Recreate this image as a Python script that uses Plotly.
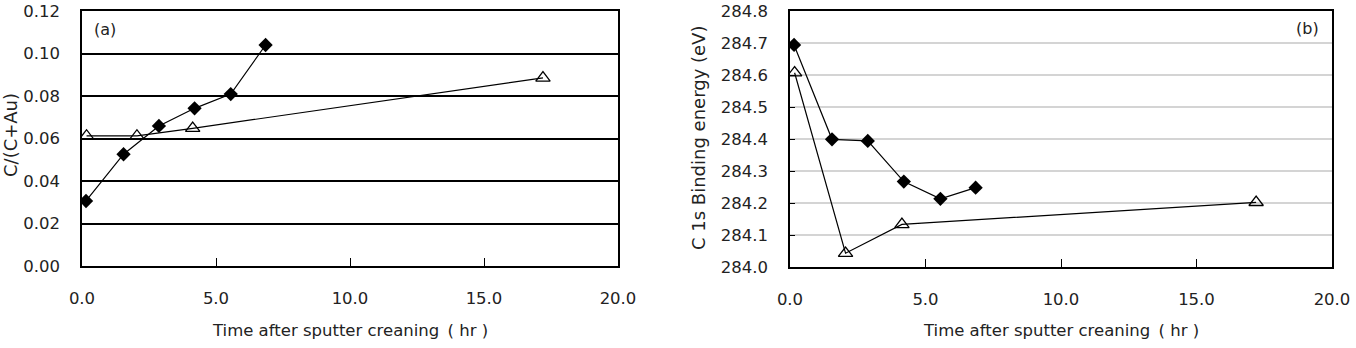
import plotly.graph_objects as go

# ---- data ----
time_dia = [0.15, 1.55, 2.87, 4.2, 5.55, 6.85]
ratio_dia = [0.0306, 0.0526, 0.0659, 0.0742, 0.0809, 0.104]
time_tri = [0.17, 2.05, 4.13, 17.2]
ratio_tri = [0.0612, 0.0612, 0.0648, 0.0885]

be_dia = [284.694, 284.399, 284.394, 284.267, 284.213, 284.248]
be_tri = [284.607, 284.043, 284.133, 284.202]

x_ticks = [0, 5, 10, 15, 20]
x_ticklabels = ["0.0", "5.0", "10.0", "15.0", "20.0"]
ya_ticks = [0, 0.02, 0.04, 0.06, 0.08, 0.10, 0.12]
ya_ticklabels = ["0.00", "0.02", "0.04", "0.06", "0.08", "0.10", "0.12"]
yb_ticks = [284.0, 284.1, 284.2, 284.3, 284.4, 284.5, 284.6, 284.7, 284.8]
yb_ticklabels = ["284.0", "284.1", "284.2", "284.3", "284.4", "284.5", "284.6", "284.7", "284.8"]

x_title = "Time after sputter creaning\u2002( hr )"
ya_title = "C/(C+Au)"
yb_title = "C 1s Binding energy (eV)"

W, H = 1356, 348
FONT = "DejaVu Sans"
TXT = "#222222"

fig = go.Figure()

line = dict(color="black", width=1.2)
dia = dict(symbol="diamond", size=11, color="black", line=dict(color="black", width=0))
tri = dict(symbol="triangle-up-open", size=12.5, color="black", line=dict(color="black", width=1.3))

fig.add_trace(go.Scatter(x=time_dia, y=ratio_dia, mode="lines+markers", line=line, marker=dia,
                         xaxis="x", yaxis="y", showlegend=False))
fig.add_trace(go.Scatter(x=time_tri, y=ratio_tri, mode="lines+markers", line=line, marker=tri,
                         xaxis="x", yaxis="y", showlegend=False))
fig.add_trace(go.Scatter(x=time_dia, y=be_dia, mode="lines+markers", line=line, marker=dia,
                         xaxis="x2", yaxis="y2", showlegend=False))
fig.add_trace(go.Scatter(x=time_tri, y=be_tri, mode="lines+markers", line=line, marker=tri,
                         xaxis="x2", yaxis="y2", showlegend=False))

def px_x(p):
    return p / W

def px_y(p):
    return 1 - p / H

tickfont = dict(family=FONT, size=16.5, color=TXT)

common_x = dict(range=[0, 20], tickvals=x_ticks, ticktext=x_ticklabels, showgrid=False,
                showline=True, linecolor="black", linewidth=1.5, mirror=True,
                ticks="inside", ticklen=8, tickcolor="black", tickwidth=1.2,
                tickfont=tickfont, ticklabelstandoff=16, ticklabeloverflow="allow",
                zeroline=False, automargin=False)

common_y = dict(showgrid=True, showline=True, linecolor="black", linewidth=1.5, mirror=True,
                ticks="inside", ticklen=5, tickcolor="black",
                tickfont=tickfont, ticklabelstandoff=17, ticklabeloverflow="allow",
                zeroline=False, automargin=False)

fig.update_layout(
    width=W, height=H,
    margin=dict(l=0, r=0, t=0, b=0, autoexpand=False),
    paper_bgcolor="white", plot_bgcolor="white",
    xaxis=dict(domain=[px_x(82), px_x(618)], anchor="y", **common_x),
    xaxis2=dict(domain=[px_x(790), px_x(1332)], anchor="y2", **common_x),
    yaxis=dict(domain=[px_y(266), px_y(11)], anchor="x", range=[0, 0.12],
               tickvals=ya_ticks, ticktext=ya_ticklabels,
               gridcolor="black", gridwidth=1.5, **common_y),
    yaxis2=dict(domain=[px_y(267), px_y(11)], anchor="x2", range=[284.0, 284.8],
                tickvals=yb_ticks, ticktext=yb_ticklabels,
                gridcolor="#d4d4d4", gridwidth=1.5, **common_y),
)

titlefont = dict(family=FONT, size=16.5, color=TXT)
ytitlefont = dict(family=FONT, size=18, color=TXT)
ann = [
    dict(text=x_title, x=(px_x(82) + px_x(618)) / 2, y=px_y(330), xref="paper", yref="paper",
         showarrow=False, font=titlefont, xanchor="center", yanchor="middle"),
    dict(text=x_title, x=(px_x(790) + px_x(1332)) / 2, y=px_y(330), xref="paper", yref="paper",
         showarrow=False, font=titlefont, xanchor="center", yanchor="middle"),
    dict(text=ya_title, x=px_x(10), y=px_y(135), xref="paper", yref="paper", textangle=-90,
         showarrow=False, font=ytitlefont, xanchor="center", yanchor="middle"),
    dict(text=yb_title, x=px_x(698), y=px_y(138), xref="paper", yref="paper", textangle=-90,
         showarrow=False, font=ytitlefont, xanchor="center", yanchor="middle"),
    dict(text="(a)", x=px_x(105), y=px_y(29), xref="paper", yref="paper",
         showarrow=False, font=dict(family=FONT, size=16, color=TXT), xanchor="center", yanchor="middle"),
    dict(text="(b)", x=px_x(1307), y=px_y(28), xref="paper", yref="paper",
         showarrow=False, font=dict(family=FONT, size=16, color=TXT), xanchor="center", yanchor="middle"),
]
fig.update_layout(annotations=ann)

fig.write_html("out.html")
